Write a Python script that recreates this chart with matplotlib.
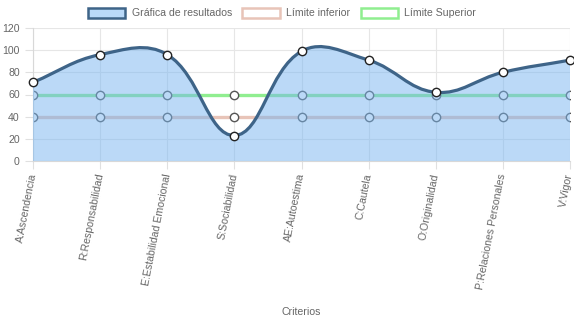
import matplotlib
matplotlib.use("Agg")
import matplotlib.pyplot as plt
import numpy as np
from matplotlib.path import Path
from matplotlib.patches import PathPatch, Patch

criterios = ["A:Ascendencia", "R:Responsabilidad", "E:Estabilidad Emocional",
             "S:Sociabilidad", "AE:Autoestima", "C:Cautela", "O:Originalidad",
             "P:Relaciones Personales", "V:Vigor"]
resultados = [71, 96, 96, 23, 99, 91, 62, 80, 91]
limite_inferior = [40, 40, 40, 40, 40, 40, 40, 40, 40]
limite_superior = [60, 60, 60, 60, 60, 60, 60, 60, 60]

LINE_BLUE = "#3e6488"
FILL_BLUE = (0.47, 0.71, 0.94, 0.5)
PINK = "#e8c4b8"
GREEN = "#90ee90"
TEXT = "#666666"
FS = 7.6

plt.rcParams["font.family"] = ["Liberation Sans", "DejaVu Sans"]

W, H = 574, 323
fig = plt.figure(figsize=(W / 100, H / 100), dpi=100)
left, right, top, bottom = 33, 570, 28, 161
ax = fig.add_axes([left / W, 1 - bottom / H, (right - left) / W, (bottom - top) / H])

x = np.arange(len(criterios))
ymax = 120
ax.set_xlim(0, len(criterios) - 1)
ax.set_ylim(0, ymax)

# pixel scale, used so the spline tension behaves like Chart.js
sx = (right - left) / (len(criterios) - 1)
sy = (bottom - top) / ymax


def spline_path(xs, ys, tension=0.4):
    px = np.array(xs, float) * sx
    py = np.array(ys, float) * sy
    n = len(px)
    verts = [(px[0], py[0])]
    codes = [Path.MOVETO]
    cps = []
    for i in range(n):
        pi = max(i - 1, 0)
        ni = min(i + 1, n - 1)
        d01 = np.hypot(px[i] - px[pi], py[i] - py[pi])
        d12 = np.hypot(px[ni] - px[i], py[ni] - py[i])
        tot = d01 + d12
        fa = d01 / tot if tot else 0
        fb = d12 / tot if tot else 0
        fa *= tension
        fb *= tension
        c1 = (px[i] - fa * (px[ni] - px[pi]), py[i] - fa * (py[ni] - py[pi]))
        c2 = (px[i] + fb * (px[ni] - px[pi]), py[i] + fb * (py[ni] - py[pi]))
        cps.append((c1, c2))
    for i in range(1, n):
        verts += [cps[i - 1][1], cps[i][0], (px[i], py[i])]
        codes += [Path.CURVE4] * 3
    verts = [(vx / sx, vy / sy) for vx, vy in verts]
    return verts, codes


# limit lines drawn first (below the translucent fill)
ax.plot(x, limite_superior, color=GREEN, lw=2.4, zorder=2, marker="o", ms=6,
        mfc="white", mec="#555555", mew=1.0)
ax.plot(x, limite_inferior, color=PINK, lw=2.4, zorder=2, marker="o", ms=6,
        mfc="white", mec="#555555", mew=1.0)

verts, codes = spline_path(x, resultados)
fill_verts = verts + [(x[-1], 0), (x[0], 0), (x[0], resultados[0])]
fill_codes = codes + [Path.LINETO, Path.LINETO, Path.CLOSEPOLY]
ax.add_patch(PathPatch(Path(fill_verts, fill_codes), facecolor=FILL_BLUE,
                       edgecolor="none", zorder=3))
ax.add_patch(PathPatch(Path(verts, codes), facecolor="none", edgecolor=LINE_BLUE,
                       lw=2.3, zorder=4, clip_on=False))
ax.plot(x, resultados, ls="none", marker="o", ms=6, mfc="white", mec="#222222",
        mew=1.0, zorder=5, clip_on=False)

ax.set_yticks(np.arange(0, 121, 20))
ax.set_xticks(x)
ax.set_xticklabels(criterios, rotation=79, ha="right", va="center",
                   rotation_mode="anchor")
ax.tick_params(axis="both", colors="#e0e0e0", labelcolor=TEXT, labelsize=FS,
               length=6, width=0.8)
ax.tick_params(axis="x", pad=3)
ax.grid(True, color="#e6e6e6", lw=0.8, zorder=0)
for s in ["top", "right"]:
    ax.spines[s].set_visible(False)
ax.spines["left"].set_color("#d8d8d8")
ax.spines["bottom"].set_color("#d8d8d8")

ax.set_xlabel("Criterios", color=TEXT, fontsize=FS)
ax.xaxis.set_label_coords(0.5, -1.10)

handles = [
    Patch(facecolor="#b9d9f8", edgecolor=LINE_BLUE, lw=1.8, label="Gráfica de resultados"),
    Patch(facecolor="white", edgecolor=PINK, lw=1.8, label="Límite inferior"),
    Patch(facecolor="white", edgecolor=GREEN, lw=1.8, label="Límite Superior"),
]
fig.legend(handles=handles, loc="center", bbox_to_anchor=(282 / W, 1 - 13 / H), ncol=3,
           frameon=False, fontsize=FS, labelcolor=TEXT, handlelength=3.55,
           handleheight=1.1, columnspacing=1.0, handletextpad=0.58)

fig.savefig("out.png", dpi=100)
